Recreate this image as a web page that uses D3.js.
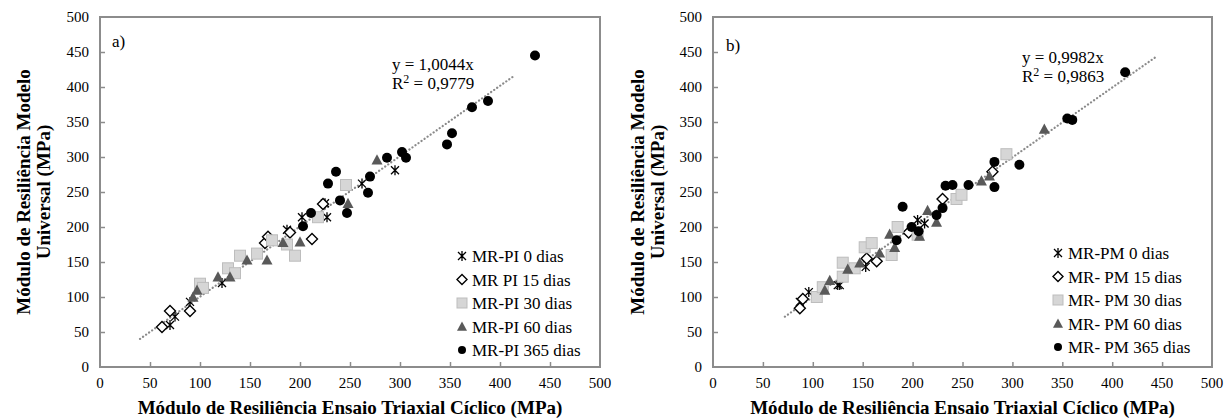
<!DOCTYPE html>
<html>
<head>
<meta charset="utf-8">
<script src="https://cdn.jsdelivr.net/npm/d3@7"></script>
<style>
  body { margin: 0; background: #fff; }
  svg { display: block; }
  text { font-family: "Liberation Serif", "Times New Roman", serif; fill: #000; }
</style>
</head>
<body>
<svg width="1229" height="419"></svg>
<script>
const axisTicks = [0, 50, 100, 150, 200, 250, 300, 350, 400, 450, 500]

// a) PI
const piDias0 = [[70, 60], [75, 72], [90, 93], [122, 120], [187, 196], [202, 214], [225, 234], [227, 214], [262, 262], [295, 281]]
const piDias15 = [[62, 57], [70, 80], [90, 80], [165, 177], [168, 186], [190, 192], [212, 183], [223, 233]]
const piDias30 = [[100, 119], [103, 113], [128, 141], [135, 134], [140, 159], [157, 162], [172, 181], [187, 175], [195, 159], [218, 214], [246, 260]]
const piDias60 = [[93, 100], [97, 110], [118, 129], [130, 129], [147, 153], [167, 153], [183, 178], [200, 179], [248, 234], [277, 296]]
const piDias365 = [[203, 201], [211, 220], [228, 262], [236, 279], [240, 238], [247, 220], [268, 249], [270, 272], [287, 299], [302, 307], [306, 299], [347, 318], [352, 334], [372, 371], [388, 380], [435, 445]]
const piLabels = ['MR-PI 0 dias', 'MR PI 15 dias', 'MR-PI 30 dias', 'MR-PI 60 dias', 'MR-PI 365 dias']
const piEquation = ['y = 1,0044x', '0,9779']
const piSlope = 1.0044
const piTrendRange = [40, 415]

// b) PM
const pmDias0 = [[87, 93], [96, 107], [125, 117], [127, 117], [153, 143], [205, 210], [212, 205]]
const pmDias15 = [[87, 84], [90, 97], [154, 155], [164, 151], [196, 192], [230, 240], [280, 279]]
const pmDias30 = [[104, 100], [110, 114], [130, 129], [130, 149], [142, 141], [152, 171], [159, 177], [179, 160], [185, 200], [205, 189], [244, 240], [249, 246], [294, 304]]
const pmDias60 = [[112, 110], [117, 124], [135, 140], [147, 149], [167, 163], [177, 190], [182, 171], [207, 187], [215, 224], [224, 207], [269, 266], [277, 273], [332, 340]]
const pmDias365 = [[184, 181], [190, 229], [199, 200], [206, 194], [224, 217], [230, 227], [233, 259], [240, 260], [256, 260], [282, 257], [282, 293], [307, 289], [355, 355], [360, 353], [413, 421]]
const pmLabels = ['MR-PM 0 dias', 'MR- PM 15 dias', 'MR- PM 30 dias', 'MR- PM 60 dias', 'MR- PM 365 dias']
const pmEquation = ['y = 0,9982x', '0,9863']
const pmSlope = 0.9982
const pmTrendRange = [72, 443]

const xTitle = 'Módulo de Resiliência Ensaio Triaxial Cíclico (MPa)'
const yTitle = ['Módulo de Resiliência Modelo', 'Universal (MPa)']

const svg = d3.select('svg')
const frameColor = '#8c8c8c'

const markers = {
  star (g, x, y, s) {
    const r = s / 2
    g.append('path')
      .attr('d', `M${x - r * 0.8},${y - r * 0.8}L${x + r * 0.8},${y + r * 0.8}M${x - r * 0.8},${y + r * 0.8}L${x + r * 0.8},${y - r * 0.8}M${x},${y - r}L${x},${y + r}`)
      .attr('stroke', '#000').attr('stroke-width', 1.3).attr('fill', 'none')
  },
  diamond (g, x, y, s) {
    const r = s / 2
    g.append('path')
      .attr('d', `M${x},${y - r}L${x + r},${y}L${x},${y + r}L${x - r},${y}Z`)
      .attr('stroke', '#000').attr('stroke-width', 1.4).attr('fill', '#fff')
  },
  square (g, x, y, s) {
    g.append('rect')
      .attr('x', x - s / 2).attr('y', y - s / 2).attr('width', s).attr('height', s)
      .attr('fill', '#d6d6d6').attr('stroke', '#bdbdbd').attr('stroke-width', 1)
  },
  triangle (g, x, y, s) {
    const r = s / 2
    g.append('path')
      .attr('d', `M${x},${y - r}L${x + r},${y + r * 0.85}L${x - r},${y + r * 0.85}Z`)
      .attr('fill', '#595959')
  },
  circle (g, x, y, s) {
    g.append('circle').attr('cx', x).attr('cy', y).attr('r', s / 2).attr('fill', '#000')
  }
}
const markerKinds = ['star', 'diamond', 'square', 'triangle', 'circle']
const markerSizes = [10, 11, 11, 11, 10]
const legendSizes = [10, 10, 10, 10, 8]

function drawPanel ({left, right, series, labels, equation, slope, trendRange, tag, tagPos, eqPos, legendPos, yTitleX}) {
  const x = d3.scaleLinear().domain([0, 500]).range([left, right])
  const y = d3.scaleLinear().domain([0, 500]).range([367, 17])
  const g = svg.append('g')

  // frame
  g.append('rect')
    .attr('x', left).attr('y', y(500)).attr('width', right - left).attr('height', y(0) - y(500))
    .attr('fill', 'none').attr('stroke', frameColor).attr('stroke-width', 2)

  // ticks inside
  g.append('g')
    .attr('transform', `translate(0,${y(0)})`)
    .call(d3.axisTop(x).tickValues(axisTicks.slice(1, -1)).tickSize(5).tickFormat(''))
    .call(a => a.select('.domain').remove())
    .call(a => a.selectAll('line').attr('stroke', frameColor).attr('stroke-width', 1.5))
  g.append('g')
    .attr('transform', `translate(${left},0)`)
    .call(d3.axisRight(y).tickValues(axisTicks.slice(1, -1)).tickSize(5).tickFormat(''))
    .call(a => a.select('.domain').remove())
    .call(a => a.selectAll('line').attr('stroke', frameColor).attr('stroke-width', 1.5))

  // tick labels
  g.selectAll('.xl').data(axisTicks).enter().append('text')
    .attr('x', d => x(d)).attr('y', 388).attr('text-anchor', 'middle')
    .attr('font-size', 15).text(d => d)
  g.selectAll('.yl').data(axisTicks).enter().append('text')
    .attr('x', left - 11).attr('y', d => y(d) + 5).attr('text-anchor', 'end')
    .attr('font-size', 15).text(d => d)

  // axis titles
  g.append('text')
    .attr('x', (left + right) / 2).attr('y', 414).attr('text-anchor', 'middle')
    .attr('font-size', 19).attr('font-weight', 'bold').text(xTitle)
  yTitle.forEach((line, i) => {
    g.append('text')
      .attr('transform', `translate(${yTitleX + i * 20},${(y(0) + y(500)) / 2}) rotate(-90)`)
      .attr('text-anchor', 'middle')
      .attr('font-size', 19).attr('font-weight', 'bold').text(line)
  })

  // trendline
  g.append('line')
    .attr('x1', x(trendRange[0])).attr('y1', y(trendRange[0] * slope))
    .attr('x2', x(trendRange[1])).attr('y2', y(trendRange[1] * slope))
    .attr('stroke', '#8a8a8a').attr('stroke-width', 2.2)
    .attr('stroke-dasharray', '0.1,3.6').attr('stroke-linecap', 'round')

  // points
  series.forEach((data, i) => {
    const sg = g.append('g')
    data.forEach(d => markers[markerKinds[i]](sg, x(d[0]), y(d[1]), markerSizes[i]))
  })

  // equation
  g.append('text').attr('x', eqPos[0]).attr('y', eqPos[1]).attr('font-size', 17).text(equation[0])
  const r2 = g.append('text').attr('x', eqPos[0]).attr('y', eqPos[1] + 19).attr('font-size', 17)
  r2.append('tspan').text('R')
  r2.append('tspan').attr('dy', -6).attr('font-size', 12).text('2')
  r2.append('tspan').attr('dy', 6).text(' = ' + equation[1])

  // panel tag
  g.append('text').attr('x', tagPos[0]).attr('y', tagPos[1]).attr('font-size', 17).text(tag)

  // legend
  labels.forEach((label, i) => {
    const ly = legendPos[1] + i * 23.5
    markers[markerKinds[i]](g, legendPos[0], ly, legendSizes[i])
    g.append('text').attr('x', legendPos[0] + 10).attr('y', ly + 6)
      .attr('font-size', 17).text(label)
  })
}

drawPanel({
  left: 100, right: 600,
  series: [piDias0, piDias15, piDias30, piDias60, piDias365],
  labels: piLabels, equation: piEquation, slope: piSlope, trendRange: piTrendRange,
  tag: 'a)', tagPos: [112, 47], eqPos: [392, 70], legendPos: [462, 256], yTitleX: 30
})
drawPanel({
  left: 713, right: 1212,
  series: [pmDias0, pmDias15, pmDias30, pmDias60, pmDias365],
  labels: pmLabels, equation: pmEquation, slope: pmSlope, trendRange: pmTrendRange,
  tag: 'b)', tagPos: [726, 51], eqPos: [1022, 63], legendPos: [1058, 253], yTitleX: 644
})
</script>
</body>
</html>
